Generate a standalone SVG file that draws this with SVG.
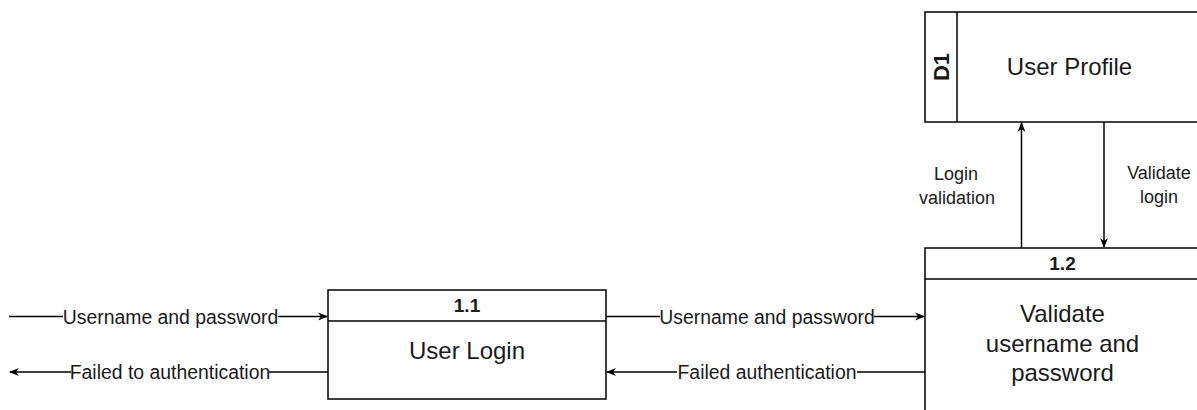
<svg xmlns="http://www.w3.org/2000/svg" width="1197" height="410" viewBox="0 0 1197 410">
<style>
.box{fill:#fff;stroke:#000;stroke-width:1.5}
.ln{fill:none;stroke:#000;stroke-width:1.5}
.t{font-family:"Liberation Sans",Arial,sans-serif;fill:#1a1a1a;text-anchor:middle}
.big{font-size:24px}
.hdr{font-size:19px;font-weight:bold}
.lbl{font-size:19.4px}
.bg{fill:#fff}
</style>
<defs>
<marker id="ah" viewBox="0 0 10 10" refX="9" refY="5" markerWidth="10" markerHeight="10" markerUnits="userSpaceOnUse" orient="auto">
<path d="M0,1 L10,5 L0,9 L3,5 Z" fill="#000"/>
</marker>
</defs>
<g id="connectors">
<line class="ln" x1="9" y1="316.5" x2="327" y2="316.5" marker-end="url(#ah)"/>
<rect class="bg" x="63" y="305" width="215" height="24"/>
<text class="t lbl" x="170.5" y="323.5">Username and password</text>
<line class="ln" x1="328" y1="372" x2="10" y2="372" marker-end="url(#ah)"/>
<rect class="bg" x="71" y="360" width="198" height="24"/>
<text class="t lbl" x="170" y="379">Failed to authentication</text>
<line class="ln" x1="606" y1="316.5" x2="924" y2="316.5" marker-end="url(#ah)"/>
<rect class="bg" x="660" y="305" width="214" height="24"/>
<text class="t lbl" x="767" y="323.5">Username and password</text>
<line class="ln" x1="925" y1="372" x2="607" y2="372" marker-end="url(#ah)"/>
<rect class="bg" x="677" y="360" width="180" height="24"/>
<text class="t lbl" x="767" y="379">Failed authentication</text>
<line class="ln" x1="1021.5" y1="248" x2="1021.5" y2="123" marker-end="url(#ah)"/>
<line class="ln" x1="1104" y1="122" x2="1104" y2="247" marker-end="url(#ah)"/>
<text class="t lbl" x="956" y="180" style="font-size:18px">Login</text>
<text class="t lbl" x="957" y="204" style="font-size:18px">validation</text>
<text class="t lbl" x="1159" y="179" style="font-size:18px">Validate</text>
<text class="t lbl" x="1159" y="203" style="font-size:18px">login</text>
</g>
<g id="node-d1">
<rect class="box" x="925" y="12" width="290" height="110"/>
<line class="ln" x1="957" y1="12" x2="957" y2="122"/>
<text class="t hdr" transform="translate(949,67) rotate(-90)" style="font-size:22px">D1</text>
<text class="t big" x="1069.5" y="75">User Profile</text>
</g>
<g id="node-1-1">
<rect class="box" x="328" y="290" width="278" height="109"/>
<line class="ln" x1="328" y1="321" x2="606" y2="321"/>
<text class="t hdr" x="467" y="312">1.1</text>
<text class="t big" x="467" y="359">User Login</text>
</g>
<g id="node-1-2">
<rect class="box" x="925" y="248" width="275" height="180"/>
<line class="ln" x1="925" y1="279" x2="1200" y2="279"/>
<text class="t hdr" x="1062.5" y="270">1.2</text>
<text class="t big" x="1062.5" y="322">Validate</text>
<text class="t big" x="1062.5" y="352">username and</text>
<text class="t big" x="1062.5" y="381">password</text>
</g>
</svg>
